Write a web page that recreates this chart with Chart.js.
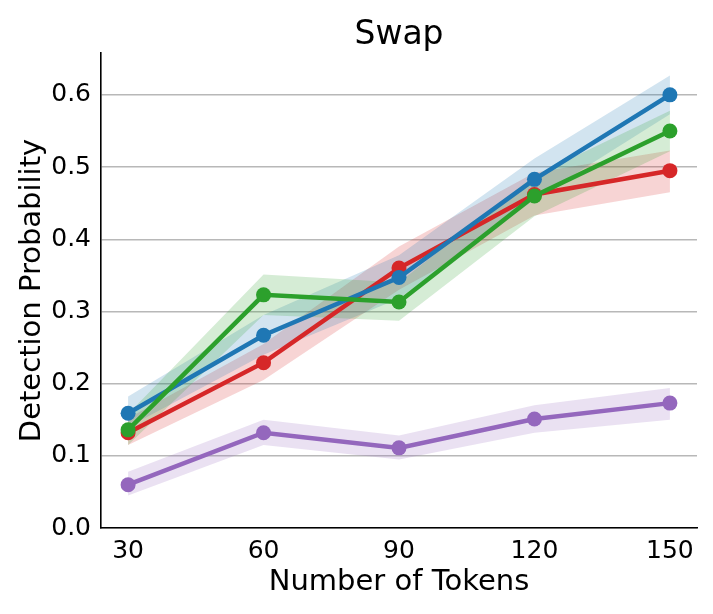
<!DOCTYPE html>
<html>
<head>
<meta charset="utf-8">
<script src="https://cdn.jsdelivr.net/npm/chart.js@4"></script>
<style>
html,body{margin:0;padding:0;background:#fff;}
#wrap{width:713px;height:614px;}
</style>
</head>
<body>
<div id="wrap"><canvas id="c" width="713" height="614"></canvas></div>
<script>
const tokens = [30, 60, 90, 120, 150];
const yTicks = [0.0, 0.1, 0.2, 0.3, 0.4, 0.5, 0.6];

const blue    = [0.159, 0.267, 0.347, 0.483, 0.600];
const blueLo  = [0.140, 0.240, 0.318, 0.455, 0.573];
const blueHi  = [0.182, 0.295, 0.378, 0.512, 0.627];

const red     = [0.132, 0.229, 0.360, 0.462, 0.495];
const redLo   = [0.115, 0.205, 0.330, 0.433, 0.465];
const redHi   = [0.152, 0.255, 0.390, 0.492, 0.523];

const green   = [0.136, 0.323, 0.313, 0.460, 0.550];
const greenLo = [0.115, 0.295, 0.287, 0.432, 0.522];
const greenHi = [0.158, 0.351, 0.340, 0.488, 0.578];

const purple   = [0.060, 0.132, 0.111, 0.151, 0.173];
const purpleLo = [0.045, 0.115, 0.095, 0.132, 0.150];
const purpleHi = [0.078, 0.150, 0.128, 0.170, 0.194];

const titleText = "Swap";
const xLabel = "Number of Tokens";
const yLabel = "Detection Probability";

const FONT = "'DejaVu Sans', sans-serif";

function pts(arr){ return tokens.map((t,i)=>({x:t, y:arr[i]})); }

function series(name, vals, lo, hi, color, rgba, order){
  return [
    {label: name+' lo', data: pts(lo), borderColor:'rgba(0,0,0,0)', borderWidth:0, pointRadius:0, fill:false, order: order+10},
    {label: name+' hi', data: pts(hi), borderColor:'rgba(0,0,0,0)', borderWidth:0, pointRadius:0, fill:'-1', backgroundColor: rgba, order: order+10},
    {label: name, data: pts(vals), borderColor: color, backgroundColor: color, borderWidth: 4.5, pointRadius: 7.5, pointHoverRadius: 7.5, pointBackgroundColor: color, pointBorderWidth: 0, fill:false, order: order}
  ];
}

const datasets = [
  ...series('red', red, redLo, redHi, '#d62728', 'rgba(214,39,40,0.2)', 4),
  ...series('blue', blue, blueLo, blueHi, '#1f77b4', 'rgba(31,119,180,0.2)', 3),
  ...series('green', green, greenLo, greenHi, '#2ca02c', 'rgba(44,160,44,0.2)', 2),
  ...series('purple', purple, purpleLo, purpleHi, '#9467bd', 'rgba(148,103,189,0.2)', 1)
];

const titlePlugin = {
  id: 'mainTitle',
  afterDraw(chart){
    const {ctx, chartArea} = chart;
    ctx.save();
    ctx.fillStyle = '#000';
    ctx.font = "33px " + FONT;
    ctx.textAlign = 'center';
    ctx.textBaseline = 'alphabetic';
    ctx.fillText(titleText, (chartArea.left + chartArea.right)/2, 44);
    ctx.restore();
  }
};

new Chart(document.getElementById('c'), {
  type: 'line',
  data: { datasets },
  plugins: [titlePlugin],
  options: {
    responsive: false,
    animation: false,
    devicePixelRatio: 1,
    layout: { padding: { left: 0, right: 16, top: 53, bottom: 0 } },
    plugins: {
      legend: { display: false },
      tooltip: { enabled: false },
      filler: { drawTime: 'beforeDatasetsDraw' }
    },
    scales: {
      x: {
        type: 'linear',
        min: 24, max: 156,
        afterBuildTicks(scale){ scale.ticks = tokens.map(v=>({value:v})); },
        afterFit(scale){ scale.height = 86; },
        grid: { display: false, drawTicks: false },
        border: { display: true, color: '#000', width: 1.6 },
        ticks: { color: '#000', font: { family: FONT, size: 25 }, padding: 8, maxRotation: 0, autoSkip: false,
                 callback: v => String(v) },
        title: { display: true, text: xLabel, color: '#000', font: { family: FONT, size: 29 }, padding: { top: 0, bottom: 14 } }
      },
      y: {
        type: 'linear',
        min: 0, max: 0.658,
        afterBuildTicks(scale){ scale.ticks = yTicks.map(v=>({value:v})); },
        afterFit(scale){ scale.width = 101; },
        grid: { display: true, color: '#b8b8b8', lineWidth: 1.4, drawTicks: false },
        border: { display: true, color: '#000', width: 1.6 },
        ticks: { color: '#000', font: { family: FONT, size: 25 }, padding: 10,
                 callback: v => Number(v).toFixed(1) },
        title: { display: true, text: yLabel, color: '#000', font: { family: FONT, size: 29 }, padding: { top: 15, bottom: 4 } }
      }
    }
  }
});
</script>
</body>
</html>
